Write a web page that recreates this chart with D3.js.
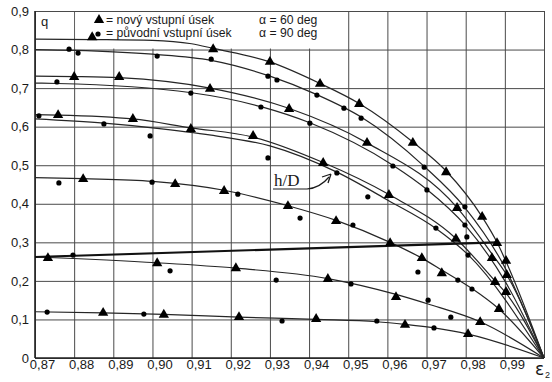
<!DOCTYPE html>
<html><head><meta charset="utf-8">
<script src="https://cdn.jsdelivr.net/npm/d3@7"></script>
<style>body{margin:0;background:#fff;} svg{display:block;}</style>
</head><body><svg id="c" width="552" height="382"></svg>
<script>
// ---- data ----
const xTickValues = [0.87,0.88,0.89,0.90,0.91,0.92,0.93,0.94,0.95,0.96,0.97,0.98,0.99];
const xTickLabels = ["0,87","0,88","0,89","0,90","0,91","0,92","0,93","0,94","0,95","0,96","0,97","0,98","0,99"];
const yTickValues = [0,0.1,0.2,0.3,0.4,0.5,0.6,0.7,0.8,0.9];
const yTickLabels = ["0","0,1","0,2","0,3","0,4","0,5","0,6","0,7","0,8","0,9"];
const xAxisTitle = "ε";
const yAxisTitle = "q";
const legendNew = "= nový vstupní úsek";
const legendOrig = "= původní vstupní úsek";
const legendNewAngle = "α = 60 deg";
const legendOrigAngle = "α = 90 deg";
const hdLabel = "h/D";

// fitted curves (eps2, q)
const curveA = [[0.87,0.827],[0.885,0.826],[0.90,0.824],[0.91,0.815],[0.9155,0.803],[0.93,0.768],[0.9428,0.712],[0.9528,0.66],[0.9665,0.56],[0.975,0.485],[0.9842,0.366],[0.988,0.30],[0.9903,0.25],[1.0,0]];
const curveB = [[0.87,0.800],[0.88,0.798],[0.90,0.788],[0.915,0.772],[0.93,0.731],[0.942,0.683],[0.9533,0.625],[0.9694,0.497],[0.9798,0.39],[0.99,0.235],[1.0,0]];
const curveC = [[0.87,0.731],[0.88,0.730],[0.8915,0.727],[0.9147,0.70],[0.935,0.647],[0.9548,0.558],[0.9778,0.39],[0.9867,0.27],[0.9905,0.215],[1.0,0]];
const curveD = [[0.87,0.713],[0.8756,0.712],[0.91,0.688],[0.9277,0.652],[0.9402,0.61],[0.9614,0.50],[0.9701,0.437],[0.9798,0.345],[0.99,0.20],[1.0,0]];
const curveE = [[0.87,0.631],[0.8759,0.630],[0.895,0.620],[0.9098,0.597],[0.9257,0.573],[0.9436,0.507],[0.9604,0.424],[0.9775,0.31],[0.9875,0.20],[0.9903,0.168],[1.0,0]];
const curveF = [[0.87,0.620],[0.8876,0.609],[0.90,0.597],[0.915,0.578],[0.93,0.550],[0.9471,0.482],[0.96,0.41],[0.9724,0.336],[0.9806,0.268],[1.0,0]];
const curveG = [[0.87,0.468],[0.8823,0.465],[0.90,0.458],[0.9183,0.435],[0.9346,0.395],[0.9469,0.357],[0.9607,0.30],[0.9688,0.259],[0.9739,0.228],[0.9816,0.18],[0.9885,0.127],[1.0,0]];
const curveH = [[0.87,0.262],[0.9012,0.247],[0.9213,0.233],[0.9448,0.206],[0.9622,0.165],[0.9704,0.140],[0.9837,0.094],[1.0,0]];
const curveI = [[0.87,0.120],[0.8874,0.117],[0.9029,0.113],[0.9221,0.106],[0.9418,0.100],[0.9573,0.094],[0.9645,0.087],[0.9719,0.078],[0.9806,0.062],[1.0,0]];
const thickLine = [[0.87,0.262],[0.988,0.300]];

// measured points: new inlet (triangles)
const newPoints = [
 [0.8846,0.832],[0.9155,0.801],[0.9300,0.768],[0.9428,0.711],[0.9528,0.659],[0.9665,0.558],[0.9750,0.482],[0.9842,0.366],[0.9880,0.298],[0.9903,0.252],
 [0.8800,0.729],[0.8915,0.729],[0.9147,0.698],[0.9349,0.646],[0.9548,0.558],[0.9778,0.389],[0.9867,0.259],[0.9905,0.215],
 [0.8759,0.630],[0.8950,0.620],[0.9098,0.594],[0.9257,0.576],[0.9436,0.506],[0.9604,0.423],[0.9775,0.309],[0.9875,0.197],[0.9903,0.171],
 [0.8823,0.464],[0.9058,0.451],[0.9183,0.433],[0.9346,0.394],[0.9469,0.355],[0.9607,0.298],[0.9688,0.259],[0.9739,0.220],[0.9885,0.127],
 [0.8733,0.259],[0.9012,0.246],[0.9213,0.233],[0.9448,0.205],[0.9622,0.158],[0.9837,0.093],
 [0.8874,0.117],[0.9029,0.112],[0.9221,0.106],[0.9418,0.101],[0.9645,0.086],[0.9806,0.062]
];
// measured points: original inlet (dots)
const origPoints = [
 [0.8787,0.801],[0.8810,0.791],[0.9012,0.783],[0.9150,0.775],[0.9295,0.731],[0.9318,0.721],[0.9420,0.682],[0.9489,0.648],[0.9533,0.622],[0.9694,0.495],[0.9798,0.392],
 [0.8756,0.716],[0.9098,0.687],[0.9277,0.651],[0.9402,0.609],[0.9614,0.498],[0.9701,0.436],[0.9798,0.345],
 [0.8710,0.628],[0.8876,0.607],[0.8994,0.576],[0.9295,0.519],[0.9471,0.480],[0.9550,0.418],[0.9724,0.337],[0.9803,0.314],[0.9806,0.267],
 [0.8761,0.454],[0.8999,0.456],[0.9218,0.425],[0.9377,0.363],[0.9512,0.345],[0.9678,0.223],[0.9780,0.202],[0.9816,0.179],
 [0.8797,0.267],[0.9045,0.226],[0.9316,0.202],[0.9507,0.192],[0.9704,0.150],[0.9762,0.106],
 [0.8731,0.119],[0.8978,0.114],[0.9331,0.096],[0.9573,0.096],[0.9719,0.078]
];

// ---- drawing ----
const svg = d3.select("#c");
const L = 35, R = 544, T = 11, B = 358;
const x = d3.scaleLinear().domain([0.87, 1.0]).range([L, R]);
const y = d3.scaleLinear().domain([0, 0.9]).range([B, T]);
const font = "'Liberation Sans', Arial, sans-serif";
const ink = "#1a1a1a";

svg.append("rect").attr("width",552).attr("height",382).attr("fill","#fff");

// grid via axes
const gx = svg.append("g").attr("transform",`translate(0,${B})`)
  .call(d3.axisBottom(x).tickValues(xTickValues.concat([1.0])).tickSize(-(B-T)).tickFormat(""));
gx.select(".domain").remove();
gx.selectAll("line").attr("stroke","#4a4a4a").attr("stroke-width",1);
const gy = svg.append("g").attr("transform",`translate(${L},0)`)
  .call(d3.axisLeft(y).tickValues(yTickValues).tickSize(-(R-L)).tickFormat(""));
gy.select(".domain").remove();
gy.selectAll("line").attr("stroke","#4a4a4a").attr("stroke-width",1);

// legend background (covers grid)
svg.append("rect").attr("x",x(0.88)+1).attr("y",T+1)
  .attr("width",x(0.95)-x(0.88)-2).attr("height",y(0.8)-T-2).attr("fill","#fff");

// frame
svg.append("line").attr("x1",L).attr("x2",L).attr("y1",T).attr("y2",B).attr("stroke","#222").attr("stroke-width",1.6);
svg.append("line").attr("x1",L).attr("x2",R).attr("y1",B).attr("y2",B).attr("stroke","#222").attr("stroke-width",1.6);

// tick labels via axes
const ax = svg.append("g").attr("transform",`translate(0,${B})`)
  .call(d3.axisBottom(x).tickValues(xTickValues).tickSize(0).tickPadding(0)
    .tickFormat((d,i)=>xTickLabels[i]));
ax.select(".domain").remove();
ax.selectAll("text").attr("font-family",font).attr("font-size",13).attr("fill",ink)
  .attr("dx",7).attr("dy","0.62em").attr("y",3);
const ay = svg.append("g").attr("transform",`translate(${L},0)`)
  .call(d3.axisLeft(y).tickValues(yTickValues).tickSize(0).tickPadding(6)
    .tickFormat((d,i)=>yTickLabels[i]));
ay.select(".domain").remove();
ay.selectAll("text").attr("font-family",font).attr("font-size",13).attr("fill",ink);

// axis titles
svg.append("text").attr("x",x(1.0)-9).attr("y",375).attr("font-family","'DejaVu Sans', sans-serif")
  .attr("font-size",17).attr("fill",ink).text(xAxisTitle);
svg.append("text").attr("x",x(1.0)+1).attr("y",378).attr("font-family",font).attr("font-size",9).attr("fill",ink).text("2");
svg.append("text").attr("x",41).attr("y",26).attr("font-family",font).attr("font-size",13).attr("fill",ink).text(yAxisTitle);

// curves
const line = d3.line().x(d=>x(d[0])).y(d=>y(d[1])).curve(d3.curveMonotoneX);
[curveA,curveB,curveC,curveD,curveE,curveF,curveG,curveH,curveI].forEach(c=>{
  svg.append("path").attr("d",line(c)).attr("fill","none").attr("stroke","#262626").attr("stroke-width",1.2);
});
svg.append("path").attr("d",d3.line().x(d=>x(d[0])).y(d=>y(d[1]))(thickLine))
  .attr("fill","none").attr("stroke","#111").attr("stroke-width",2.2);

// markers
const tri = d3.symbol().type(d3.symbolTriangle).size(46);
svg.append("g").selectAll("path").data(newPoints).join("path")
  .attr("d",tri).attr("transform",d=>`translate(${x(d[0])},${y(d[1])})`).attr("fill","#000");
svg.append("g").selectAll("circle").data(origPoints).join("circle")
  .attr("cx",d=>x(d[0])).attr("cy",d=>y(d[1])).attr("r",2.6).attr("fill","#000");

// legend
svg.append("path").attr("d",tri).attr("transform","translate(99,20)").attr("fill","#000");
svg.append("circle").attr("cx",98).attr("cy",34).attr("r",2.6).attr("fill","#000");
const lfs = 12.2;
[[legendNew,106,23.5],[legendOrig,106,37],[legendNewAngle,259,23.5],[legendOrigAngle,259,37]].forEach(([t,xx,yy])=>
  svg.append("text").attr("x",xx).attr("y",yy).attr("font-family",font).attr("font-size",lfs).attr("fill",ink).text(t));

// h/D annotation
svg.append("text").attr("x",274).attr("y",186).attr("font-family","'Liberation Serif', 'DejaVu Serif', serif")
  .attr("font-size",17).attr("fill",ink).text(hdLabel);
svg.append("path").attr("d","M273,189 L307,189 Q320,188 329,177").attr("fill","none").attr("stroke",ink).attr("stroke-width",1.2);
svg.append("path").attr("d","M331,174 L322,177 M331,174 L328,183").attr("fill","none").attr("stroke",ink).attr("stroke-width",1.3);
</script></body></html>
